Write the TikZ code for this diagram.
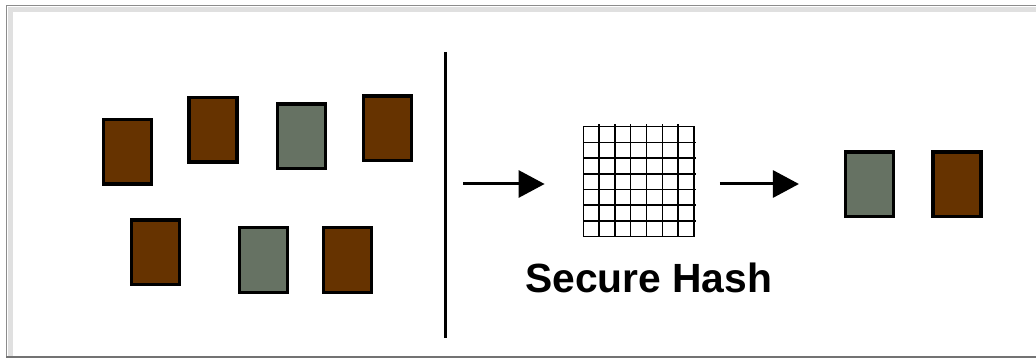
\documentclass[tikz,border=0pt]{standalone}
\usepackage{fontspec}
\setmainfont{Liberation Sans}
\usetikzlibrary{arrows.meta}
\definecolor{chestnut}{RGB}{102,51,0}
\definecolor{slate}{RGB}{102,114,99}

\begin{document}
\begin{tikzpicture}[x=1pt,y=-1pt,>={Triangle[length=26pt,width=27pt]},
    tile/.style={draw,line width=3.5pt,minimum width=48pt,minimum height=64.5pt,inner sep=0pt},
    brown tile/.style={tile,fill=chestnut},
    gray tile/.style={tile,fill=slate},
    flow/.style={->,line width=3pt}]
    \useasboundingbox (0,0) rectangle (1036,358);
    % frame
    \draw[black!12,line width=5pt] (10.5,356) |- (1036,9.5);
    \draw[black!45,line width=1.5pt] (6.5,357) |- (1036,5.5);
    \draw[black!55,line width=2pt] (6,357) -- (1036,357);

    % loose blocks
    \node[brown tile] (b1) at (127.5,152) {};
    \node[brown tile] (b2) at (213.2,130) {};
    \node[gray tile] (b3) at (301.3,136.3) {};
    \node[brown tile] (b4) at (387.5,128.2) {};
    \node[brown tile] (b5) at (155.3,252.2) {};
    \node[gray tile] (b6) at (263.5,260) {};
    \node[brown tile] (b7) at (347.5,260) {};

    \draw[line width=3pt] (445,52) -- (445,338);

    % hash grid
    \node[draw,line width=1.5pt,minimum width=110.7pt,minimum height=110pt,inner sep=0pt] (hash) at (638.7,181.7) {};
    \foreach \i in {1,...,6} {
        \draw[line width=1.5pt] (583.3+\i*15.81,124.5) -- (583.3+\i*15.81,236.7);
        \draw[line width=1.5pt] (583.3,126.7+\i*15.71) -- (696,126.7+\i*15.71);
    }
    \node[anchor=base,font=\fontsize{40.8}{48}\selectfont\bfseries] (label) at (648.7,292) {Secure Hash};

    % output blocks
    \node[gray tile] (g1) at (869.5,184.2) {};
    \node[brown tile] (g2) at (957.2,184.2) {};

    \coordinate (start) at (463,184);
    \draw[flow,shorten >=38pt] (start) -- (start -| hash.west);
    \draw[flow,shorten <=25pt,shorten >=44.8pt] (start -| hash.east) -- (start -| g1.west);
\end{tikzpicture}
\end{document}
